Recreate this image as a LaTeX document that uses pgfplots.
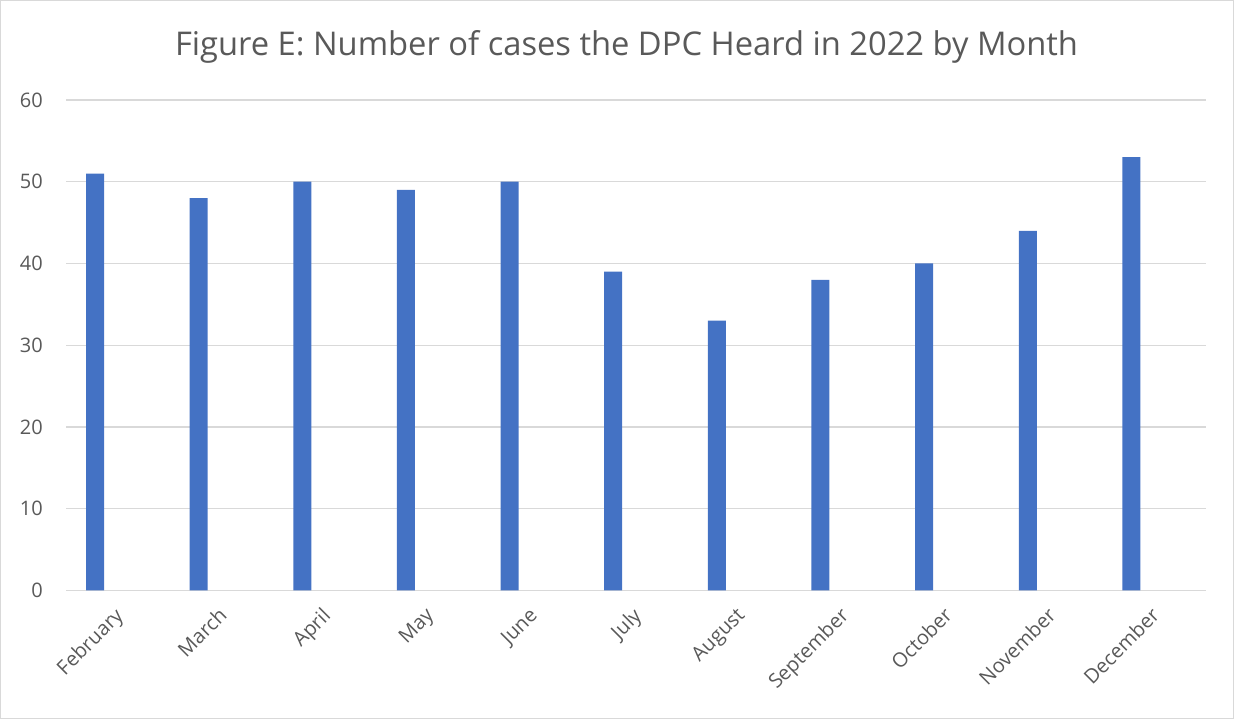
\documentclass[border=0pt]{standalone}
\usepackage{pgfplots}
\pgfplotsset{compat=1.18}
\usepackage{fontspec}
\setmainfont{Open Sans}
\definecolor{barblue}{HTML}{4472C4}
\definecolor{gridgray}{HTML}{D9D9D9}
\definecolor{txtgray}{HTML}{595959}
\begin{document}
\begin{tikzpicture}[x=1pt,y=1pt]
\draw[gridgray,line width=1pt] (0.5,0.5) rectangle (1233.5,718.5);
\node[txtgray,font=\fontsize{32.7}{40}\selectfont] at (626.5,672) {Figure E: Number of cases the DPC Heard in 2022 by Month};
\begin{axis}[
  at={(66pt,128.5pt)}, anchor=south west,
  scale only axis, width=1140pt, height=490.5pt,
  ybar, bar width=18pt, bar shift=-22.8pt,
  xmin=-0.5, xmax=10.5, ymin=0, ymax=60,
  ytick={0,10,...,60},
  xtick={0,...,10},
  xticklabels={February,March,April,May,June,July,August,September,October,November,December},
  axis line style={draw=none},
  major tick length=0pt,
  ymajorgrids, grid style={gridgray,line width=1.3pt},
  tick label style={txtgray,font=\fontsize{20}{24}\selectfont},
  /pgf/number format/assume math mode=true,
  xticklabel style={rotate=45,anchor=north east,inner sep=0pt,xshift=-14pt,yshift=-8pt},
  yticklabel style={anchor=east,inner sep=0pt,xshift=-23pt},
]
\addplot[fill=barblue,draw=none] coordinates {(0,51) (1,48) (2,50) (3,49) (4,50) (5,39) (6,33) (7,38) (8,40) (9,44) (10,53)};
\end{axis}
\end{tikzpicture}
\end{document}
